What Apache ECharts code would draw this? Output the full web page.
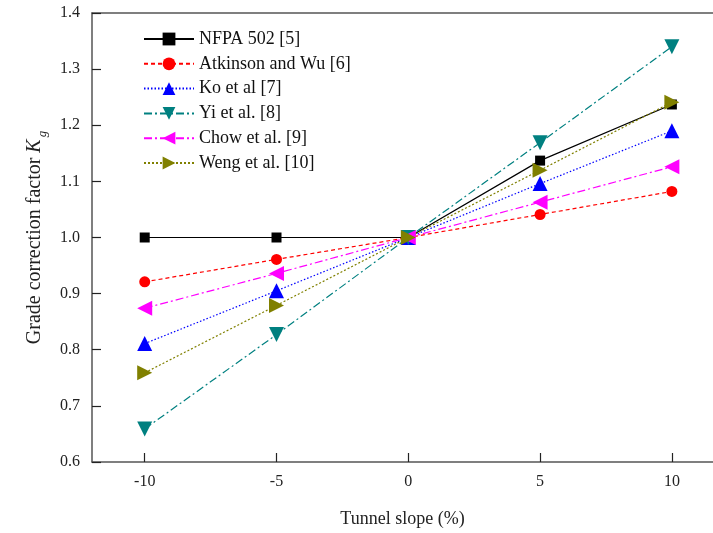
<!DOCTYPE html>
<html><head><meta charset="utf-8">
<script src="https://cdn.jsdelivr.net/npm/echarts@6/dist/echarts.min.js"></script>
<style>html,body{margin:0;padding:0;background:#fff}#c{width:713px;height:533px}</style>
</head><body><div id="c"></div>
<script>
const slopes = [-10, -5, 0, 5, 10];
const xTicks = [-10, -5, 0, 5, 10];
const yTicks = [0.6, 0.7, 0.8, 0.9, 1.0, 1.1, 1.2, 1.3, 1.4];
const nfpa = [1.0, 1.0, 1.0, 1.137, 1.237];
const atkinson = [0.921, 0.961, 1.0, 1.041, 1.082];
const ko = [0.811, 0.905, 1.0, 1.096, 1.19];
const yi = [0.659, 0.827, 1.0, 1.169, 1.34];
const chow = [0.874, 0.936, 1.0, 1.063, 1.126];
const weng = [0.759, 0.879, 1.0, 1.12, 1.241];
const names = ['NFPA 502 [5]', 'Atkinson and Wu [6]', 'Ko et al [7]', 'Yi et al. [8]', 'Chow et al. [9]', 'Weng et al. [10]'];

const font = 'Liberation Serif';
function pairs(v){ return slopes.map((x,i)=>[x, v[i]]); }
function ser(name, data, color, symbol, rot, size, ltype){
  return {
    name, type:'line', data: pairs(data), symbol, symbolRotate: rot, symbolSize: size,
    xAxisIndex:0,
    lineStyle:{color, width:1.2, type: ltype},
    itemStyle:{color},
    z: 3
  };
}
const chart = echarts.init(document.getElementById('c'), null, {renderer:'canvas'});
chart.setOption({
  animation:false,
  backgroundColor:'#fff',
  grid:{left:92, right:0, top:13, bottom:70, show:false},
  legend:{
    left:138, top:25, orient:'vertical', itemGap:6.8, itemWidth:50, itemHeight:16,
    textStyle:{fontFamily:font, fontSize:18, color:'#111'},
    data: names
  },
  xAxis:[{
    type:'value', min:-12, max:11.56,
    name:'Tunnel slope (%)', nameLocation:'middle', nameGap:48,
    nameTextStyle:{fontFamily:font, fontSize:18, color:'#222'},
    axisLine:{onZero:false, lineStyle:{color:'#555', width:1.5}},
    axisTick:{inside:true, length:9, customValues: xTicks, lineStyle:{color:'#222', width:1.2}},
    axisLabel:{customValues: xTicks, fontFamily:font, fontSize:16, color:'#222', margin:12},
    splitLine:{show:false}
  },{
    type:'value', min:-12, max:11.56, position:'top',
    axisLine:{onZero:false, lineStyle:{color:'#555', width:1.5}},
    axisTick:{show:false}, axisLabel:{show:false}, splitLine:{show:false}
  }],
  yAxis:{
    type:'value', min:0.6, max:1.4, interval:0.1,
    name:'{a|Grade correction factor }{k|K}{g|g}', nameLocation:'middle', nameGap:36, nameRotate:90,
    nameTextStyle:{fontFamily:font, fontSize:19, color:'#222',
      rich:{
        a:{fontFamily:font, fontSize:20, color:'#222', lineHeight:28, verticalAlign:'middle'},
        k:{fontFamily:font, fontSize:20, color:'#222', fontStyle:'italic', lineHeight:28, verticalAlign:'middle'},
        g:{fontFamily:font, fontSize:13, color:'#222', fontStyle:'italic', lineHeight:28, verticalAlign:'bottom', padding:[0,0,0,2]}
      }},
    axisLine:{onZero:false, lineStyle:{color:'#555', width:1.5}},
    axisTick:{inside:true, length:9, lineStyle:{color:'#222', width:1.2}},
    axisLabel:{fontFamily:font, fontSize:16, color:'#222', margin:12, formatter: v => v.toFixed(1)},
    splitLine:{show:false}
  },
  series:[
    ser(names[0], nfpa, '#000000', 'rect', 0, 10, 'solid'),
    ser(names[1], atkinson, '#ff0000', 'circle', 0, 11, [4,3]),
    ser(names[2], ko, '#0000ff', 'triangle', 0, 15, [1.5,2]),
    ser(names[3], yi, '#008080', 'triangle', 180, 15, [8,3,2,3]),
    ser(names[4], chow, '#ff00ff', 'triangle', 90, 15, [8,3,2,3]),
    ser(names[5], weng, '#808000', 'triangle', -90, 15, [2,2])
  ]
});
</script></body></html>
